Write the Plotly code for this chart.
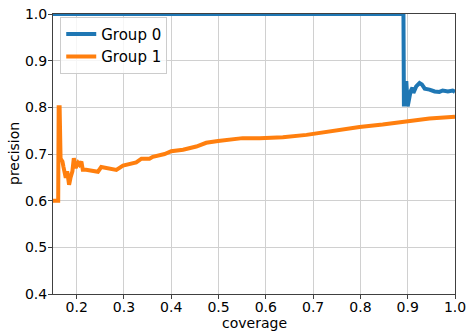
import plotly.graph_objects as go

# Group 0 (blue) coverage / precision
g0_cov = [0.150, 0.300, 0.500, 0.700, 0.891, 0.892, 0.894, 0.897, 0.900, 0.906, 0.910,
          0.912, 0.918, 0.925, 0.930, 0.936, 0.946, 0.957, 0.967, 0.974, 0.985, 0.995, 1.000]
g0_prec = [1.000, 1.000, 1.000, 1.000, 1.000, 0.802, 0.820, 0.856, 0.802, 0.834, 0.842,
           0.831, 0.845, 0.852, 0.849, 0.840, 0.838, 0.834, 0.833, 0.836, 0.834, 0.836, 0.833]

# Group 1 (orange)
g1_cov = [0.150, 0.161, 0.162, 0.164, 0.166, 0.170, 0.172, 0.177, 0.180, 0.184, 0.187,
          0.191, 0.194, 0.198, 0.203, 0.206, 0.210, 0.213, 0.220, 0.234, 0.245, 0.252,
          0.263, 0.284, 0.298, 0.312, 0.326, 0.337, 0.354, 0.361, 0.386, 0.400, 0.425,
          0.453, 0.474, 0.499, 0.523, 0.551, 0.587, 0.636, 0.686, 0.742, 0.798, 0.847,
          0.897, 0.946, 1.000]
g1_prec = [0.600, 0.600, 0.800, 0.800, 0.690, 0.684, 0.673, 0.649, 0.663, 0.634, 0.649,
           0.663, 0.691, 0.670, 0.681, 0.677, 0.684, 0.666, 0.666, 0.664, 0.662, 0.672,
           0.670, 0.666, 0.675, 0.679, 0.682, 0.690, 0.690, 0.694, 0.700, 0.706, 0.709,
           0.716, 0.724, 0.728, 0.731, 0.734, 0.734, 0.736, 0.741, 0.750, 0.758, 0.763,
           0.770, 0.776, 0.780]

x_ticks = [0.2, 0.3, 0.4, 0.5, 0.6, 0.7, 0.8, 0.9, 1.0]
y_ticks = [0.4, 0.5, 0.6, 0.7, 0.8, 0.9, 1.0]

fig = go.Figure()
fig.add_trace(go.Scatter(x=g0_cov, y=g0_prec, mode="lines", name="Group 0",
                         line=dict(color="#1f77b4", width=4)))
fig.add_trace(go.Scatter(x=g1_cov, y=g1_prec, mode="lines", name="Group 1",
                         line=dict(color="#ff7f0e", width=4)))

font = dict(family="DejaVu Sans", size=14, color="#000000")
axis_common = dict(showgrid=True, gridcolor="#d0d0d0", gridwidth=1,
                   showline=True, linecolor="#404040", linewidth=1, mirror=True,
                   ticks="outside", ticklen=4, tickcolor="#404040",
                   tickformat=".1f", zeroline=False, tickfont=font, automargin=False)

fig.update_layout(
    width=468, height=333,
    margin=dict(l=53, r=13, t=14, b=39),
    paper_bgcolor="white", plot_bgcolor="white",
    font=font,
    showlegend=True,
    legend=dict(x=0.018, y=0.99, xanchor="left", yanchor="top",
                bgcolor="rgba(255,255,255,0.8)", bordercolor="#cccccc", borderwidth=1,
                font=dict(family="DejaVu Sans", size=15, color="#000000"),
                itemwidth=30, tracegroupgap=0),
    xaxis=dict(range=[0.15, 1.0], tickvals=x_ticks, ticklabelstandoff=-4, **axis_common),
    yaxis=dict(range=[0.4, 1.0], tickvals=y_ticks, ticklabelstandoff=-2, **axis_common),
    annotations=[
        dict(text="coverage", xref="paper", yref="paper", x=0.5, y=-0.1036,
             xanchor="center", yanchor="middle", showarrow=False, font=font),
        dict(text="precision", xref="paper", yref="paper", x=-0.097, y=0.5,
             xanchor="center", yanchor="middle", textangle=-90, showarrow=False, font=font),
    ],
)

fig.write_html("out.html")
